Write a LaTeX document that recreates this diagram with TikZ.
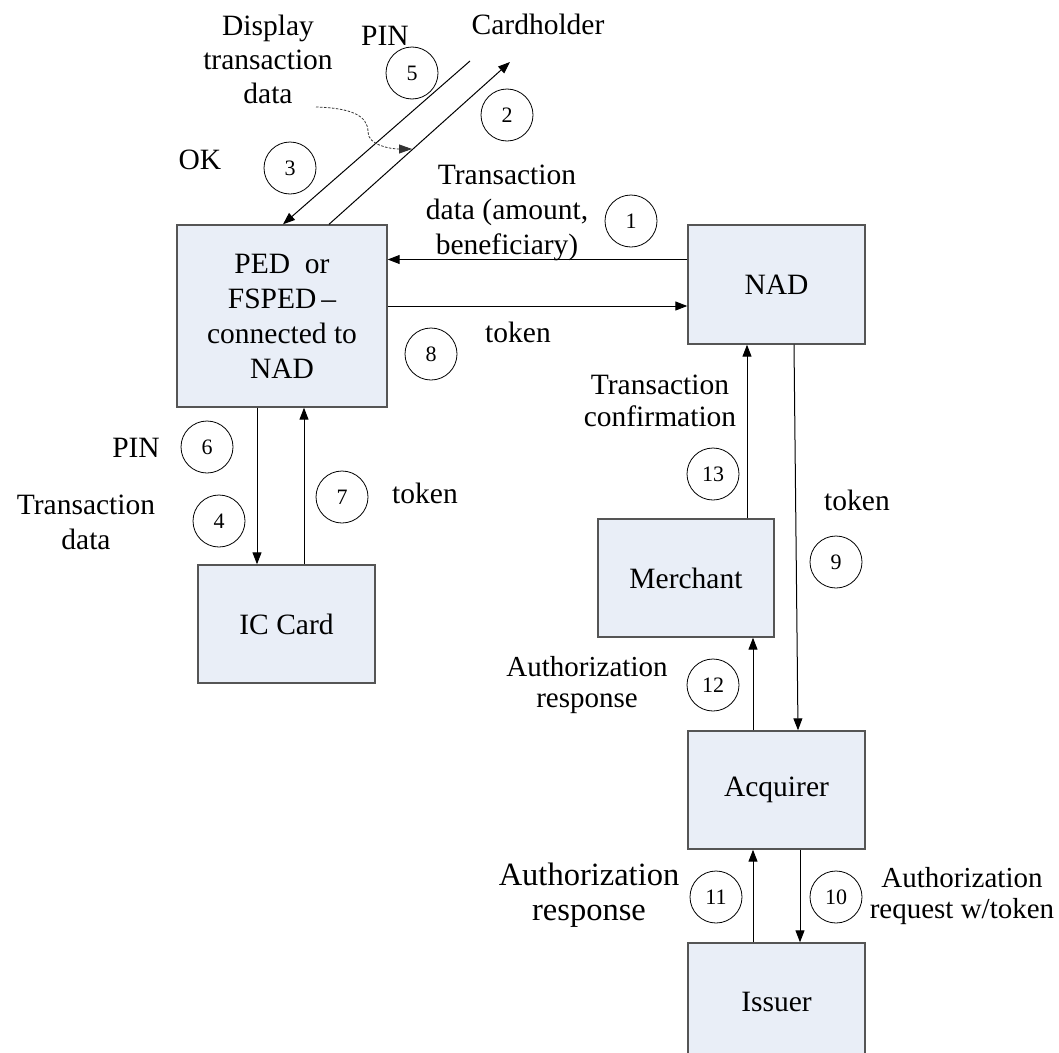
\documentclass[tikz,border=0pt]{standalone}
\usepackage{fontspec}
\setmainfont{Liberation Serif}
\usetikzlibrary{positioning, arrows.meta}

\definecolor{boxfill}{RGB}{233,238,247}
\definecolor{boxline}{RGB}{85,85,85}

\begin{document}
\begin{tikzpicture}[
        x=1pt, y=-1pt,
        font=\fontsize{29.5}{35}\selectfont,
        box/.style={draw=boxline, line width=1.4pt, fill=boxfill, align=center, inner sep=0pt, minimum width=177pt, minimum height=118pt},
        num/.style={draw, circle, line width=0.8pt, minimum size=52pt, inner sep=0pt, font=\fontsize{22}{24}\selectfont},
        txt/.style={align=center, inner sep=0pt},
        arrow/.style={draw, line width=1pt, -{Triangle[length=12pt, width=9pt]}},
        hint/.style={draw=black!80, line width=0.8pt, dash pattern=on 2.5pt off 1.5pt, -{Triangle[length=13pt, width=9pt]}}
    ]
    \useasboundingbox (0,0) rectangle (1059,1052);
    \clip (0,0) rectangle (1059,1052);

    % Komponenten
    \node (ped) [box, minimum width=210pt, minimum height=182pt] at (282,316) {PED\ \ or\\FSPED\,–\\connected to\\NAD};
    \node (nad) [box, minimum height=119pt] at (776.5,284.5) {NAD};
    \node (card) [box] at (286.5,624) {IC Card};
    \node (merch) [box, minimum width=176pt] at (686,578) {Merchant};
    \node (acq) [box] at (776.5,790) {Acquirer};
    \node (iss) [box] at (776.5,1002) {Issuer};

    % Karteninhaber
    \node (holder) [txt, anchor=base] at (538,34) {Cardholder};
    \coordinate (holdin) at (470,61);
    \coordinate (holdout) at (510,62);

    % Beschriftungen
    \node (disp) [txt, anchor=north, font=\fontsize{29.5}{34}\selectfont] at (268,15) {Display\\transaction\\data};
    \coordinate (dispout) at (316,107);
    \coordinate (dispin) at (412,149);
    \node (pin5) [txt, anchor=base] at (385,45) {PIN};
    \node (ok) [txt, anchor=base] at (200,169) {OK};
    \node (trdata) [txt, anchor=north] at (507,165) {Transaction\\data (amount,\\beneficiary)};
    \node (tok8) [txt, anchor=base] at (518,342) {token};
    \node (pin6) [txt, anchor=base east] at (160,457) {PIN};
    \node (trdata4) [txt, anchor=north] at (86,495) {Transaction\\data};
    \node (tok7) [txt, anchor=base] at (425,503) {token};
    \node (conf) [txt, anchor=north, font=\fontsize{29.5}{32}\selectfont] at (660,375) {Transaction\\confirmation};
    \node (tok9) [txt, anchor=base] at (857,510) {token};
    \node (resp12) [txt, anchor=north, font=\fontsize{29}{31}\selectfont] at (587,656) {Authorization\\response};
    \node (resp11) [txt, anchor=north, font=\fontsize{32.5}{35}\selectfont] at (589,863) {Authorization\\response};
    \node (req10) [txt, anchor=north, font=\fontsize{29}{31}\selectfont] at (962,867) {Authorization\\request w/token};

    % Nummern
    \foreach \n/\x/\y in {1/631/221, 2/507/115, 3/290/168, 4/219/521, 5/412/73, 6/207/447, 7/342/497,
                          8/431/354, 9/836/562, 10/836/897, 11/716/897, 12/713/685, 13/713/474}
        \node (n\n) [num] at (\x,\y) {\n};

    % Verbindungen
    \draw[arrow] (holdin) -- ([xshift=1pt]ped.north);
    \draw[arrow] ([xshift=47pt]ped.north) -- (holdout);
    \draw[hint] (dispout) .. controls (350,108) and (368,115) .. (368,132)
        .. controls (368,145) and (390,149) .. (dispin);
    \draw[arrow] ([yshift=25pt]nad.west) -- ([yshift=25pt]nad.west -| ped.east);
    \draw[arrow] ([yshift=10pt]ped.east) -- ([yshift=10pt]ped.east -| nad.west);
    \draw[arrow] ([xshift=-25pt]ped.south) -- ([xshift=-25pt]ped.south |- card.north);
    \draw[arrow] ([xshift=22pt]ped.south |- card.north) -- ([xshift=22pt]ped.south);
    \draw[arrow] ([xshift=-29.5pt]nad.south |- merch.north) -- ([xshift=-29.5pt]nad.south);
    \draw[arrow] ([xshift=17.5pt]nad.south) -- ([xshift=21.5pt]acq.north);
    \draw[arrow] ([xshift=-23.5pt]acq.north) -- ([xshift=-23.5pt]acq.north |- merch.south);
    \draw[arrow] ([xshift=-23.5pt]iss.north) -- ([xshift=-23.5pt]iss.north |- acq.south);
    \draw[arrow] ([xshift=23.5pt]acq.south) -- ([xshift=23.5pt]acq.south |- iss.north);

\end{tikzpicture}
\end{document}
